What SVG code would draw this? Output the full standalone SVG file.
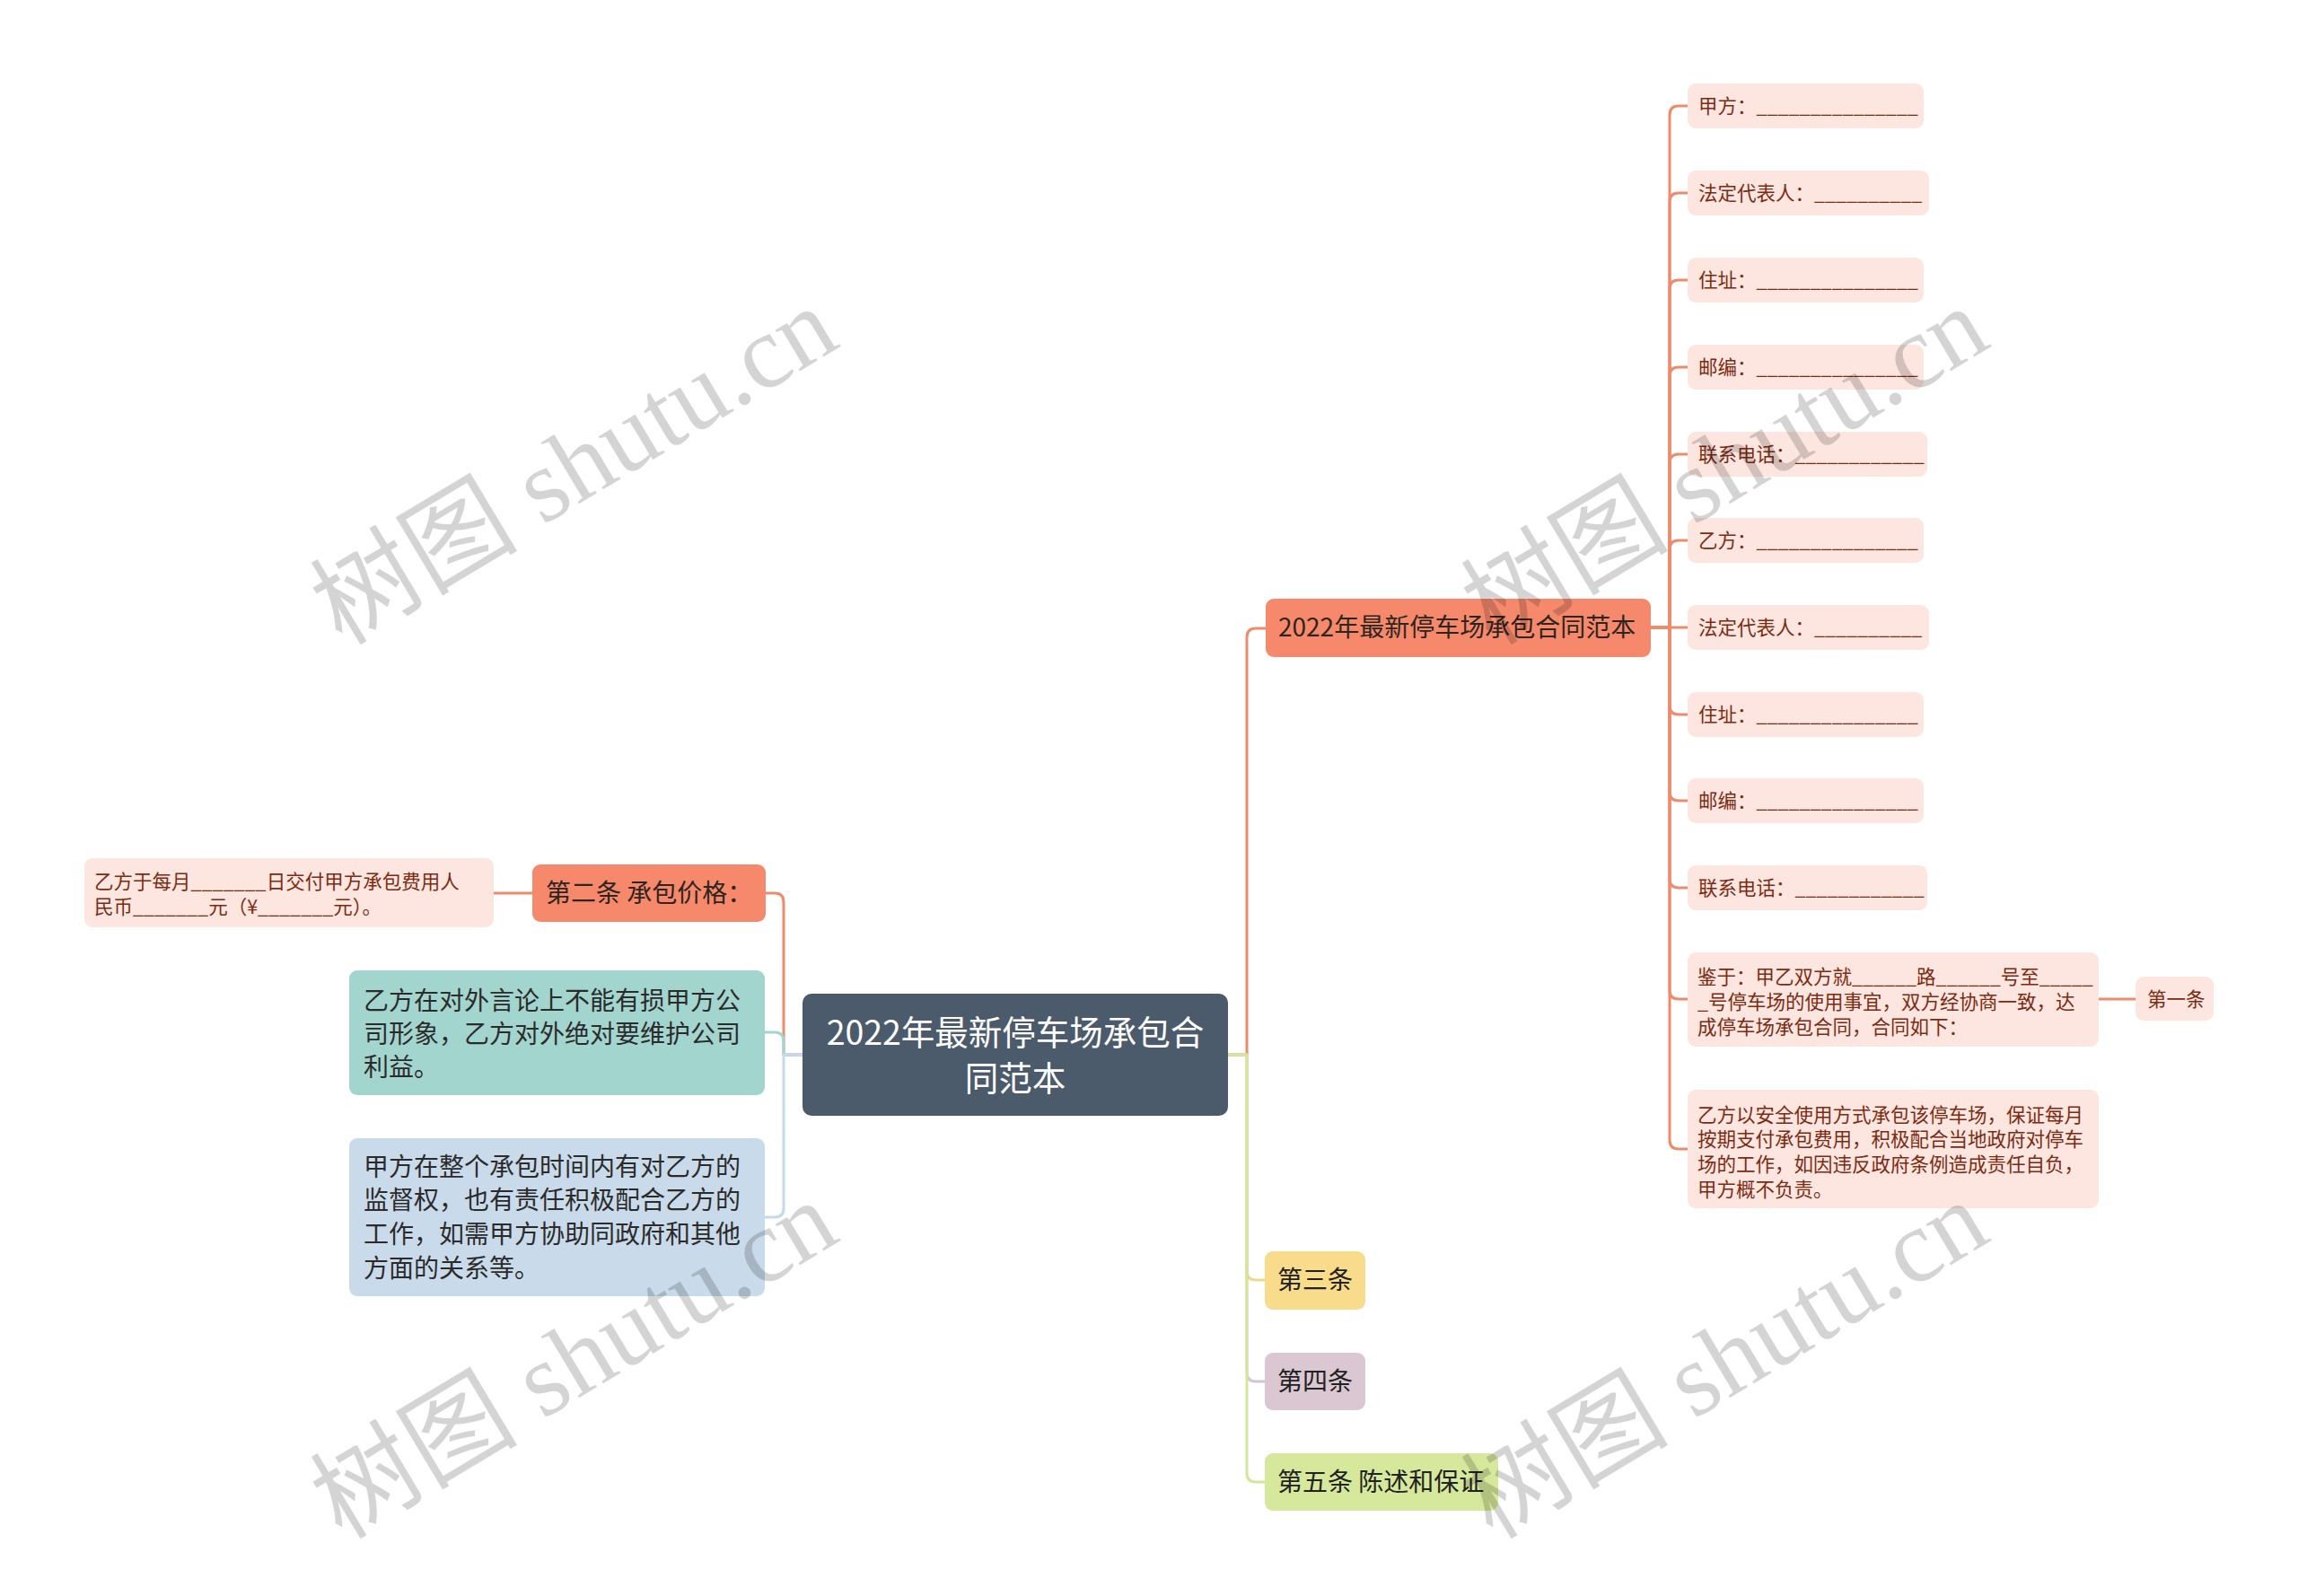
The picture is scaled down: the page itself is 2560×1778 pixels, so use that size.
<svg xmlns="http://www.w3.org/2000/svg" width="2560" height="1778" viewBox="0 0 2560 1778">
<style>
.t{font-family:"Noto Sans CJK SC","Noto Sans",sans-serif;}
.pk rect{fill:#fde6e0;}
.pk text{fill:#7c2b12;font-size:21.5px;}
.ln{fill:none;stroke-width:3;stroke-linecap:round;stroke-linejoin:round;}
.or{stroke:#ee8b6d;}
.wm{font-family:"Liberation Serif","Noto Sans CJK SC",serif;font-size:116px;fill:#000;fill-opacity:0.17;text-anchor:middle;}
</style>
<rect width="2560" height="1778" fill="#ffffff"/>
<g id="connectors">
<path class="ln or" d="M1368 1175 H1389 V710 Q1389 700 1399 700 H1410"/>
<path class="ln" stroke="#f0d98a" d="M1368 1175 H1389 V1416 Q1389 1426 1399 1426 H1409"/>
<path class="ln" stroke="#d6c5d0" d="M1368 1175 H1389 V1529 Q1389 1539 1399 1539 H1409"/>
<path class="ln" stroke="#d3e69a" d="M1368 1175 H1389 V1641 Q1389 1651 1399 1651 H1409"/>
<path class="ln or" d="M894 1175 H873 V1005 Q873 995 863 995 H853"/>
<path class="ln" stroke="#a3d5cf" d="M894 1175 H873 V1160 Q873 1150 863 1150 H852"/>
<path class="ln" stroke="#c6d9ea" d="M894 1175 H873 V1346 Q873 1356 863 1356 H852"/>
<path class="ln or" d="M593 995 H550"/>
<path class="ln or" d="M1839 699 H1860 V128 Q1860 118 1870 118 H1880"/>
<path class="ln or" d="M1839 699 H1860 V225 Q1860 215 1870 215 H1880"/>
<path class="ln or" d="M1839 699 H1860 V322 Q1860 312 1870 312 H1880"/>
<path class="ln or" d="M1839 699 H1860 V419 Q1860 409 1870 409 H1880"/>
<path class="ln or" d="M1839 699 H1860 V516 Q1860 506 1870 506 H1880"/>
<path class="ln or" d="M1839 699 H1860 V612 Q1860 602 1870 602 H1880"/>
<path class="ln or" d="M1839 699 H1880"/>
<path class="ln or" d="M1839 699 H1860 V786 Q1860 796 1870 796 H1880"/>
<path class="ln or" d="M1839 699 H1860 V882 Q1860 892 1870 892 H1880"/>
<path class="ln or" d="M1839 699 H1860 V979 Q1860 989 1870 989 H1880"/>
<path class="ln or" d="M1839 699 H1860 V1103 Q1860 1113 1870 1113 H1880"/>
<path class="ln or" d="M1839 699 H1860 V1270 Q1860 1280 1870 1280 H1880"/>
<path class="ln or" d="M2338 1113 H2379"/>
</g>
<g id="root" class="t">
<rect x="894" y="1107" width="474" height="136" rx="10" fill="#4b5b6b"/>
<text x="1131" y="1164" font-size="37.5" fill="#ffffff" text-anchor="middle">2022年最新停车场承包合</text>
<text x="1131" y="1215" font-size="37.5" fill="#ffffff" text-anchor="middle">同范本</text>
</g>
<g id="branch-main" class="t">
<rect x="1410" y="667" width="429" height="65" rx="9" fill="#f6896b"/>
<text x="1424" y="709" font-size="28" fill="#2e2420">2022年最新停车场承包合同范本</text>
</g>
<g id="n-jiafang" class="t pk"><rect x="1880" y="93" width="263" height="50" rx="9"/><text x="1892" y="126">甲方：_______________</text></g>
<g id="n-fading1" class="t pk"><rect x="1880" y="190" width="269" height="50" rx="9"/><text x="1892" y="223">法定代表人：__________</text></g>
<g id="n-zhuzhi1" class="t pk"><rect x="1880" y="287" width="263" height="50" rx="9"/><text x="1892" y="320">住址：_______________</text></g>
<g id="n-youbian1" class="t pk"><rect x="1880" y="384" width="263" height="50" rx="9"/><text x="1892" y="417">邮编：_______________</text></g>
<g id="n-dianhua1" class="t pk"><rect x="1880" y="481" width="267" height="50" rx="9"/><text x="1892" y="514">联系电话：____________</text></g>
<g id="n-yifang" class="t pk"><rect x="1880" y="577" width="263" height="50" rx="9"/><text x="1892" y="610">乙方：_______________</text></g>
<g id="n-fading2" class="t pk"><rect x="1880" y="674" width="269" height="50" rx="9"/><text x="1892" y="707">法定代表人：__________</text></g>
<g id="n-zhuzhi2" class="t pk"><rect x="1880" y="771" width="263" height="50" rx="9"/><text x="1892" y="804">住址：_______________</text></g>
<g id="n-youbian2" class="t pk"><rect x="1880" y="867" width="263" height="50" rx="9"/><text x="1892" y="900">邮编：_______________</text></g>
<g id="n-dianhua2" class="t pk"><rect x="1880" y="964" width="267" height="50" rx="9"/><text x="1892" y="997">联系电话：____________</text></g>
<g id="n-jianyu" class="t pk"><rect x="1880" y="1061" width="458" height="105" rx="9"/>
<text x="1891" y="1096">鉴于：甲乙双方就______路______号至_____</text>
<text x="1891" y="1124">_号停车场的使用事宜，双方经协商一致，达</text>
<text x="1891" y="1152">成停车场承包合同，合同如下：</text></g>
<g id="n-diyitiao" class="t pk"><rect x="2379" y="1088" width="87" height="49" rx="9"/><text x="2392" y="1121">第一条</text></g>
<g id="n-yifangyi" class="t pk"><rect x="1880" y="1214" width="458" height="132" rx="9"/>
<text x="1891" y="1250">乙方以安全使用方式承包该停车场，保证每月</text>
<text x="1891" y="1277">按期支付承包费用，积极配合当地政府对停车</text>
<text x="1891" y="1305">场的工作，如因违反政府条例造成责任自负，</text>
<text x="1891" y="1333">甲方概不负责。</text></g>
<g id="n-dier" class="t"><rect x="593" y="963" width="260" height="64" rx="9" fill="#f6896b"/><text x="608" y="1005" font-size="28" fill="#2e2420">第二条 承包价格：</text></g>
<g id="n-yifangyu" class="t pk"><rect x="94" y="956" width="456" height="77" rx="9"/>
<text x="105" y="990">乙方于每月_______日交付甲方承包费用人</text>
<text x="105" y="1018">民币_______元（¥_______元）。</text></g>
<g id="n-teal" class="t"><rect x="389" y="1081" width="463" height="139" rx="9" fill="#a3d5cf"/>
<text font-size="28" fill="#2b2b2b"><tspan x="405" y="1125">乙方在对外言论上不能有损甲方公</tspan><tspan x="405" y="1162">司形象，乙方对外绝对要维护公司</tspan><tspan x="405" y="1199">利益。</tspan></text></g>
<g id="n-blue" class="t"><rect x="389" y="1268" width="463" height="176" rx="9" fill="#c9daea"/>
<text font-size="28" fill="#2b2b2b"><tspan x="405" y="1310">甲方在整个承包时间内有对乙方的</tspan><tspan x="405" y="1347">监督权，也有责任积极配合乙方的</tspan><tspan x="405" y="1385">工作，如需甲方协助同政府和其他</tspan><tspan x="405" y="1423">方面的关系等。</tspan></text></g>
<g id="n-disan" class="t"><rect x="1409" y="1394" width="112" height="65" rx="9" fill="#f8db8b"/><text x="1423" y="1436" font-size="28" fill="#222">第三条</text></g>
<g id="n-disi" class="t"><rect x="1409" y="1507" width="112" height="64" rx="9" fill="#dac7d2"/><text x="1423" y="1549" font-size="28" fill="#222">第四条</text></g>
<g id="n-diwu" class="t"><rect x="1409" y="1619" width="260" height="64" rx="9" fill="#d6e89b"/><text x="1423" y="1661" font-size="28" fill="#222">第五条 陈述和保证</text></g>
<g id="watermarks">
<text class="wm" transform="translate(640,520) rotate(-31)" y="38">树图 shutu.cn</text>
<text class="wm" transform="translate(1922,520) rotate(-31)" y="38">树图 shutu.cn</text>
<text class="wm" transform="translate(640,1516) rotate(-31)" y="38">树图 shutu.cn</text>
<text class="wm" transform="translate(1922,1516) rotate(-31)" y="38">树图 shutu.cn</text>
</g>
</svg>
